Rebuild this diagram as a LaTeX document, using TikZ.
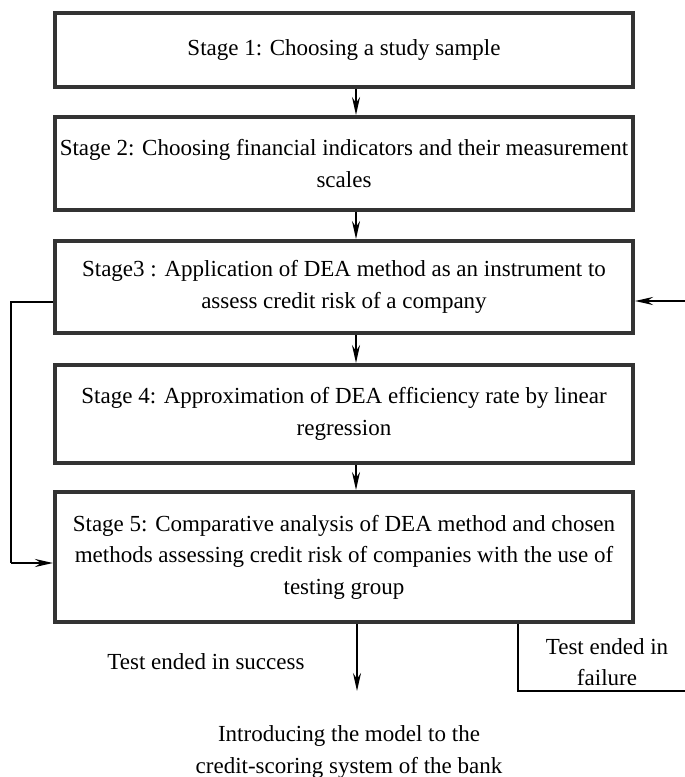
\documentclass[tikz,border=0pt]{standalone}
\usepackage{fontspec}
\setmainfont{Liberation Serif}
\usetikzlibrary{arrows.meta}
\definecolor{boxgray}{HTML}{333333}
\tikzset{
  txt/.style={font=\fontsize{23}{31.5}\selectfont, inner sep=0pt, align=center},
  stagebox/.style={txt, draw=boxgray, line width=4pt, minimum width=578pt, inner sep=0pt},
  arr/.style={-{Stealth[length=18pt,width=8pt,inset=6pt]}, line width=2pt},
  thinline/.style={line width=1.4pt},
}
\begin{document}
\begin{tikzpicture}[x=1pt,y=-1pt]
\useasboundingbox (0,0) rectangle (685,777);
\node[stagebox, minimum height=74pt] (B1) at (344,50) {Stage 1: Choosing a study sample};
\node[stagebox, minimum height=93pt] (B2) at (344,163.5) {Stage 2: Choosing financial indicators and their measurement\\scales};
\node[stagebox, minimum height=92pt] (B3) at (344,287) {Stage3 : Application of DEA method as an instrument to\\assess credit risk of a company};
\node[stagebox, minimum height=98pt] (B4) at (344,414) {Stage 4: Approximation of DEA efficiency rate by linear\\regression};
\node[stagebox, minimum height=130pt] (B5) at (344,557) {Stage 5: Comparative analysis of DEA method and chosen\\methods assessing credit risk of companies with the use of\\testing group};

\coordinate (ax) at (356,0);
\draw[arr] (B1.south -| ax) -- (B2.north -| ax);
\draw[arr] (B2.south -| ax) -- (B3.north -| ax);
\draw[arr] (B3.south -| ax) -- (B4.north -| ax);
\draw[arr] (B4.south -| ax) -- (B5.north -| ax);

\coordinate (fbTop) at (11,302);
\coordinate (fbBot) at (11,563);
\draw[thinline] (B3.west |- fbTop) -- (fbTop) -- (fbBot);
\draw[arr, line width=2.4pt] (fbBot) -- (B5.west |- fbBot);

\coordinate (rin) at (686,301);
\draw[arr, line width=2.4pt] (rin) -- (B3.east |- rin);

\coordinate (endarr) at (357,691);
\draw[arr] (B5.south -| endarr) -- (endarr);

\coordinate (f1) at (518,691);
\coordinate (f2) at (686,691);
\draw[thinline] (B5.south -| f1) -- (f1) -- (f2);

\node[txt] (succ) at (206,662) {Test ended in success};
\node[txt] (fail) at (607,662) {Test ended in\\failure};
\node[txt] (intro) at (349,752) {Introducing the model to the\\credit-scoring system of the bank};
\end{tikzpicture}
\end{document}
